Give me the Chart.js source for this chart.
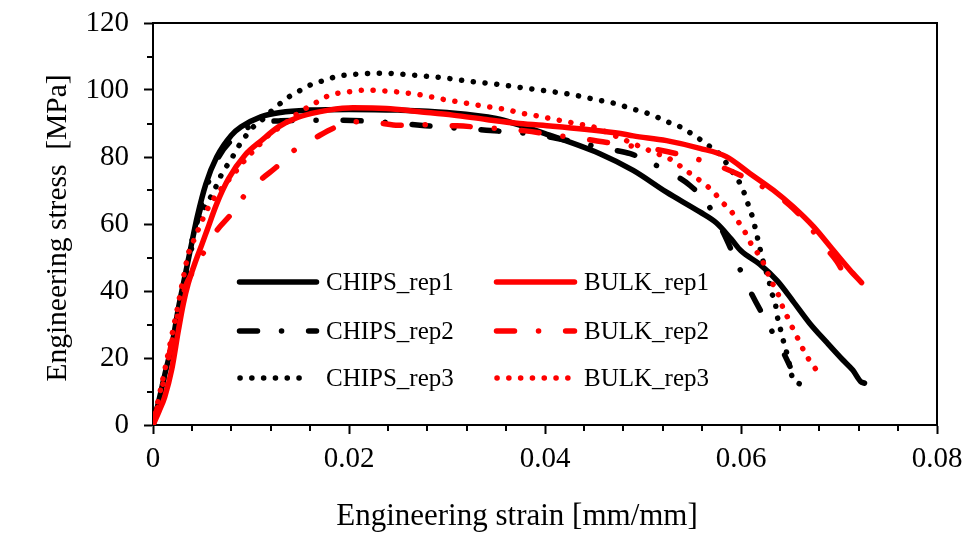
<!DOCTYPE html>
<html>
<head>
<meta charset="utf-8">
<script src="https://cdn.jsdelivr.net/npm/chart.js@4.4.1/dist/chart.umd.min.js"></script>
<style>
  body { margin: 0; background: #fff; }
  canvas { display: block; }
</style>
</head>
<body>
<canvas id="chart" width="973" height="535"></canvas>
<script>
'use strict';

// tensile curves, strain [mm/mm] vs stress [MPa]
const chipsRep1Strain = [0, 0.0005, 0.0012, 0.002, 0.0026, 0.0033, 0.004, 0.0045, 0.0054, 0.0065, 0.008, 0.009, 0.011, 0.013, 0.016, 0.02, 0.025, 0.03, 0.035, 0.04, 0.0456, 0.049, 0.0524, 0.0558, 0.0575, 0.059, 0.06, 0.0619, 0.0637, 0.0653, 0.067, 0.0688, 0.0704, 0.0714, 0.0722, 0.0726];
const chipsRep1Stress = [0, 6, 15, 25, 35, 45, 55, 62, 72, 80, 86.5, 89, 92, 93.3, 94, 94.2, 94, 93.3, 91.5, 87, 81, 76, 69.5, 63.6, 60.3, 55.5, 52, 48, 43, 37, 30.4, 24.5, 19.4, 16.4, 13, 12.5];

const chipsRep2Strain = [0, 0.0005, 0.0012, 0.002, 0.0027, 0.0034, 0.0041, 0.0047, 0.0056, 0.0067, 0.008, 0.0095, 0.011, 0.013, 0.018, 0.022, 0.026, 0.03, 0.034, 0.039, 0.043, 0.0466, 0.0487, 0.051, 0.053, 0.0548, 0.0565, 0.0581, 0.0596, 0.0611, 0.0628, 0.0645, 0.065];
const chipsRep2Stress = [0, 6, 15, 25, 35, 45, 55, 63, 72, 80, 85, 88.5, 90.2, 90.8, 91, 90.7, 89.8, 88.8, 88, 86.7, 84.5, 82.3, 81, 78, 75, 71.5, 66.3, 58, 48.4, 39, 29.9, 20.6, 17.5];

const chipsRep3Strain = [0, 0.0005, 0.0012, 0.002, 0.0027, 0.0033, 0.0038, 0.0046, 0.0055, 0.0062, 0.0067, 0.0073, 0.008, 0.0086, 0.0093, 0.0101, 0.0111, 0.012, 0.013, 0.014, 0.0151, 0.0162, 0.0174, 0.0187, 0.0211, 0.0237, 0.025, 0.0276, 0.03, 0.0325, 0.0351, 0.0376, 0.0402, 0.0426, 0.0451, 0.0475, 0.0487, 0.05, 0.0512, 0.0524, 0.0536, 0.0546, 0.0556, 0.0566, 0.0577, 0.0585, 0.0592, 0.0599, 0.0604, 0.0608, 0.0612, 0.0615, 0.0618, 0.0621, 0.0624, 0.0628, 0.0631, 0.0635, 0.0637, 0.064, 0.0643, 0.0648, 0.0652, 0.0662];
const chipsRep3Stress = [0, 6, 15, 26, 36, 46, 53, 61, 66.2, 69.6, 73.1, 76.3, 79.4, 82.6, 85.6, 88.6, 91, 93.5, 96, 98.2, 100, 101.7, 102.8, 104, 104.8, 105, 104.8, 104.2, 103.5, 102.5, 101.7, 100.7, 99.7, 98.7, 97.2, 95.7, 94.5, 93.5, 92.2, 90.6, 89.3, 87.6, 85.7, 83.6, 81.2, 78.2, 75.2, 72.1, 68.7, 65.2, 61.8, 58.2, 54.4, 50.7, 47.3, 43.8, 39.8, 36.3, 32.5, 28.9, 25.4, 20, 14.6, 11.9];

const bulkRep1Strain = [0, 0.0006, 0.0012, 0.0019, 0.0026, 0.0031, 0.0036, 0.0043, 0.005, 0.0055, 0.0065, 0.0077, 0.0094, 0.0111, 0.0128, 0.0145, 0.0162, 0.0179, 0.0204, 0.0238, 0.0272, 0.0306, 0.034, 0.0374, 0.0408, 0.0443, 0.0477, 0.049, 0.0524, 0.0558, 0.0585, 0.0609, 0.0633, 0.0653, 0.0674, 0.0694, 0.0711, 0.0723];
const bulkRep1Stress = [0, 4, 8.4, 16.4, 28.4, 36.3, 42.3, 48.5, 54, 58, 66, 73.5, 80.6, 85, 89, 91.5, 93, 94, 94.7, 94.5, 93.5, 92.5, 91.2, 90, 89.2, 88.2, 87, 86.3, 84.9, 82.6, 80.1, 75.1, 70.1, 65.2, 59.2, 52.2, 46.3, 42.5];

const bulkRep2Strain = [0, 0.0006, 0.0013, 0.002, 0.0027, 0.0034, 0.0041, 0.0047, 0.0053, 0.0065, 0.0079, 0.0093, 0.0109, 0.0126, 0.0144, 0.0165, 0.0184, 0.0206, 0.023, 0.025, 0.0276, 0.031, 0.0346, 0.038, 0.0415, 0.0449, 0.0475, 0.0518, 0.0551, 0.058, 0.0616, 0.0636, 0.0653, 0.067, 0.0684, 0.0698, 0.071];
const bulkRep2Stress = [0, 7, 16, 26, 35, 42, 46, 49.5, 52, 58, 62.7, 68.4, 73, 77, 82, 85.6, 88.6, 90.5, 90.2, 89.5, 89.6, 89.3, 88.6, 87.8, 86.3, 85, 83.8, 82, 79.7, 77, 72.1, 68.7, 64.7, 59.2, 53.7, 48.7, 42.3];

const bulkRep3Strain = [0, 0.0005, 0.0011, 0.0018, 0.0025, 0.0031, 0.0036, 0.0041, 0.0046, 0.0056, 0.007, 0.008, 0.0095, 0.0108, 0.0119, 0.0133, 0.0143, 0.0153, 0.0165, 0.0176, 0.0188, 0.0201, 0.0219, 0.0238, 0.025, 0.0262, 0.0276, 0.0288, 0.03, 0.0313, 0.0325, 0.0339, 0.0351, 0.0363, 0.0374, 0.0388, 0.04, 0.0412, 0.0426, 0.0437, 0.0449, 0.047, 0.049, 0.051, 0.053, 0.0541, 0.0562, 0.0572, 0.058, 0.0589, 0.0596, 0.0603, 0.0609, 0.0616, 0.0623, 0.0628, 0.0633, 0.0639, 0.0643, 0.0649, 0.0654, 0.066, 0.0665, 0.0672, 0.068];
const bulkRep3Stress = [0, 7, 15, 25, 35, 44, 51, 54.7, 58.2, 64.7, 70.7, 74.1, 79.5, 83.5, 86.8, 89.6, 92, 94, 96, 97.9, 99, 99.5, 100, 99.7, 99.4, 99, 98.4, 97.7, 97, 96.4, 95.8, 95.1, 94.6, 94, 93.2, 92.5, 91.8, 91.1, 90.3, 89.7, 89, 86.5, 84, 81.5, 79, 76.6, 72.1, 69.6, 66.7, 64.2, 61.2, 58.2, 54.7, 51.7, 48.3, 44.8, 41.8, 38.3, 34.8, 31.3, 28.1, 24.7, 21.6, 18.4, 15.2];

const xMinorTicks = [0.004, 0.008, 0.012, 0.016, 0.024, 0.028, 0.032, 0.036, 0.044, 0.048, 0.052, 0.056, 0.064, 0.068, 0.072, 0.076];
const yMinorTicks = [10, 30, 50, 70, 90, 110];

const FONT = '"Liberation Serif", "Times New Roman", serif';
const SOLID = [];
const DASH_DOT = [18, 24, 0.1, 27];
const DOTTED = [0.1, 11.7];

function toPoints(xs, ys) {
  const pts = [];
  for (let i = 0; i < xs.length; i++) pts.push({x: xs[i], y: ys[i]});
  return pts;
}

function series(label, xs, ys, color, dash, order) {
  return {
    label: label,
    data: toPoints(xs, ys),
    borderColor: color,
    backgroundColor: color,
    borderWidth: 5.5,
    borderDash: dash,
    borderCapStyle: 'round',
    borderJoinStyle: 'round',
    pointRadius: 0,
    cubicInterpolationMode: 'monotone',
    fill: false,
    order: order
  };
}

const datasets = [
  series('CHIPS_rep1', chipsRep1Strain, chipsRep1Stress, '#000000', SOLID, 3),
  series('CHIPS_rep2', chipsRep2Strain, chipsRep2Stress, '#000000', DASH_DOT, 4),
  series('CHIPS_rep3', chipsRep3Strain, chipsRep3Stress, '#000000', DOTTED, 5),
  series('BULK_rep1', bulkRep1Strain, bulkRep1Stress, '#ff0000', SOLID, 0),
  series('BULK_rep2', bulkRep2Strain, bulkRep2Stress, '#ff0000', DASH_DOT, 1),
  series('BULK_rep3', bulkRep3Strain, bulkRep3Stress, '#ff0000', DOTTED, 2)
];

// frame, minor ticks, axis titles and the two-column key inside the plot
const decorations = {
  id: 'decorations',
  afterDraw(chart) {
    const ctx = chart.ctx;
    const a = chart.chartArea;
    const xs = chart.scales.x;
    const ys = chart.scales.y;
    ctx.save();
    ctx.strokeStyle = '#000';
    ctx.lineWidth = 2;
    ctx.beginPath();
    ctx.moveTo(a.left, a.top);
    ctx.lineTo(a.right, a.top);
    ctx.lineTo(a.right, a.bottom);
    ctx.stroke();

    ctx.beginPath();
    xMinorTicks.forEach(v => {
      const px = Math.round(xs.getPixelForValue(v));
      ctx.moveTo(px, a.bottom);
      ctx.lineTo(px, a.bottom + 6);
    });
    yMinorTicks.forEach(v => {
      const py = Math.round(ys.getPixelForValue(v));
      ctx.moveTo(a.left, py);
      ctx.lineTo(a.left - 6, py);
    });
    ctx.stroke();

    ctx.fillStyle = '#000';
    ctx.textAlign = 'center';
    ctx.textBaseline = 'middle';
    ctx.font = '31px ' + FONT;
    ctx.fillText('Engineering strain [mm/mm]', 517, 517);
    ctx.save();
    ctx.translate(58, 228);
    ctx.rotate(-Math.PI / 2);
    ctx.font = '29.5px ' + FONT;
    ctx.fillText('Engineering stress  [MPa]', 0, 0);
    ctx.restore();

    const cols = [
      {x0: 239.5, x1: 316.5, text: 326},
      {x0: 496.5, x1: 574.5, text: 584}
    ];
    const rows = [282, 331, 378];
    ctx.font = '25px ' + FONT;
    ctx.textAlign = 'left';
    chart.data.datasets.forEach((ds, i) => {
      const col = cols[Math.floor(i / 3)];
      const y = rows[i % 3];
      const dotted = ds.borderDash === DOTTED;
      ctx.save();
      ctx.strokeStyle = ds.borderColor;
      ctx.lineWidth = ds.borderWidth;
      ctx.lineCap = 'round';
      ctx.setLineDash(ds.borderDash);
      ctx.beginPath();
      ctx.moveTo(dotted ? col.x0 + 0.5 : col.x0, y);
      ctx.lineTo(dotted ? col.x1 - 6 : col.x1, y);
      ctx.stroke();
      ctx.restore();
      ctx.fillStyle = '#000';
      ctx.fillText(ds.label, col.text, y + 1);
    });
    ctx.restore();
  }
};

const config = {
  type: 'line',
  data: { datasets: datasets },
  options: {
    responsive: false,
    animation: false,
    devicePixelRatio: 1,
    layout: { padding: { left: 0, right: 36, top: 23, bottom: 0 } },
    plugins: { legend: { display: false }, tooltip: { enabled: false } },
    scales: {
      x: {
        type: 'linear',
        min: 0,
        max: 0.08,
        afterFit: s => { s.height = 110; s.paddingLeft = 0; s.paddingRight = 0; },
        border: { display: true, color: '#000', width: 2 },
        grid: { drawOnChartArea: false, drawTicks: true, tickLength: 9, tickWidth: 2, tickColor: '#000' },
        ticks: {
          stepSize: 0.02,
          color: '#000',
          padding: 8,
          maxRotation: 0,
          font: { family: FONT, size: 29 },
          callback: v => (Math.abs(v) < 1e-9 ? '0' : v.toFixed(2))
        }
      },
      y: {
        type: 'linear',
        min: 0,
        max: 120,
        afterFit: s => { s.width = 153; s.paddingTop = 0; s.paddingBottom = 0; },
        border: { display: true, color: '#000', width: 2 },
        grid: { drawOnChartArea: false, drawTicks: true, tickLength: 9, tickWidth: 2, tickColor: '#000' },
        ticks: {
          stepSize: 20,
          color: '#000',
          padding: 15,
          font: { family: FONT, size: 29 }
        }
      }
    }
  },
  plugins: [decorations]
};

const myChart = new Chart(document.getElementById('chart'), config);
</script>
</body>
</html>
